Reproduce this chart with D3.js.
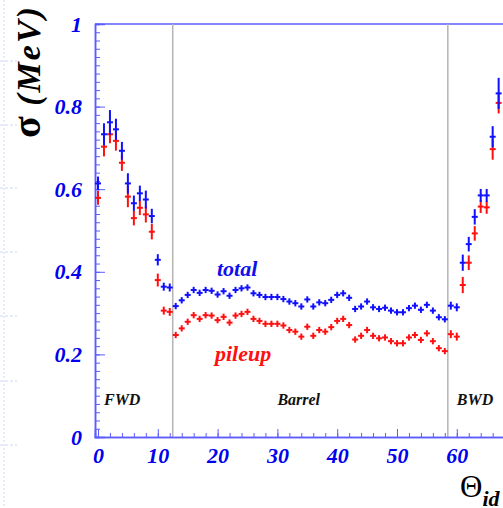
<!DOCTYPE html>
<html>
<head>
<meta charset="utf-8">
<title>sigma vs theta_id</title>
<script src="https://d3js.org/d3.v7.min.js"></script>
<style>
  body { margin: 0; background: #fff; }
  svg { display: block; }
</style>
</head>
<body>
<div id="chart"></div>
<script>

// theta_id bins
const theta = [0,1,2,3,4,5,6,7,8,9,10,11,12,13,14,15,16,17,18,19,20,21,22,23,24,25,26,27,28,29,
  30,31,32,33,34,35,36,37,38,39,40,41,42,43,44,45,46,47,48,49,50,51,52,53,54,55,56,57,58,59,
  60,61,62,63,64,65,66,67];

// total sigma (MeV)
const total = [0.614,0.733,0.762,0.745,0.693,0.614,0.566,0.590,0.575,0.535,0.429,0.364,0.362,
  0.317,0.331,0.344,0.356,0.349,0.356,0.354,0.345,0.353,0.342,0.356,0.360,0.362,0.348,0.344,
  0.339,0.339,0.339,0.334,0.328,0.324,0.316,0.333,0.316,0.326,0.324,0.332,0.344,0.348,0.337,
  0.310,0.316,0.328,0.314,0.310,0.313,0.306,0.302,0.302,0.312,0.318,0.308,0.320,0.306,0.290,
  0.285,0.318,0.314,0.422,0.467,0.533,0.585,0.585,0.727,0.832];
const totalErr = [0.013,0.023,0.026,0.022,0.018,0.021,0.015,0.015,0.018,0.014,0.010,0.006,0.006,
  0.004,0.004,0.004,0.004,0.004,0.004,0.004,0.004,0.004,0.004,0.004,0.004,0.004,0.004,0.004,
  0.004,0.004,0.004,0.004,0.004,0.004,0.004,0.004,0.004,0.004,0.004,0.004,0.004,0.004,0.004,
  0.004,0.004,0.004,0.004,0.004,0.004,0.004,0.004,0.004,0.004,0.004,0.004,0.004,0.004,0.004,
  0.004,0.006,0.006,0.016,0.014,0.015,0.012,0.012,0.022,0.034];

// pileup sigma (MeV)
const pileup = [0.579,0.703,0.733,0.717,0.664,0.582,0.530,0.555,0.539,0.497,0.380,0.306,0.303,
  0.247,0.263,0.279,0.295,0.286,0.295,0.294,0.283,0.291,0.277,0.294,0.298,0.303,0.286,0.281,
  0.274,0.274,0.274,0.270,0.259,0.255,0.243,0.267,0.245,0.259,0.255,0.266,0.281,0.286,0.271,
  0.236,0.245,0.259,0.245,0.239,0.241,0.232,0.227,0.227,0.241,0.247,0.235,0.251,0.232,0.215,
  0.208,0.249,0.243,0.368,0.422,0.493,0.558,0.556,0.697,0.809];
const pileupErr = [0.013,0.020,0.018,0.020,0.016,0.022,0.014,0.014,0.016,0.015,0.012,0.006,0.006,
  0.004,0.004,0.004,0.004,0.004,0.004,0.004,0.004,0.004,0.004,0.004,0.004,0.004,0.004,0.004,
  0.004,0.004,0.004,0.004,0.004,0.004,0.004,0.004,0.004,0.004,0.004,0.004,0.004,0.004,0.004,
  0.004,0.004,0.004,0.004,0.004,0.004,0.004,0.004,0.004,0.004,0.004,0.004,0.004,0.004,0.004,
  0.004,0.006,0.006,0.016,0.014,0.014,0.012,0.012,0.022,0.022];

const xTicks = [0,10,20,30,40,50,60];
const yTicks = [0,0.2,0.4,0.6,0.8,1];
const yTickLabels = ["0","0.2","0.4","0.6","0.8","1"];
const regionEdges = [12.5, 58.5];
const regions = [{name: "FWD", x: 1}, {name: "Barrel", x: 30}, {name: "BWD", x: 60}];

const W = 503, H = 508;
const serif = "'Liberation Serif','DejaVu Serif',serif";
const axisBlue = "#5c5cff";

let svg = d3.select("#chart").append("svg")
    .attr("width", W)
    .attr("height", H);

// faint page artefacts at the left edge
svg.append("line")
    .attr("x1", 4).attr("x2", 4).attr("y1", 0).attr("y2", H)
    .attr("stroke", "#cdd8f3").attr("stroke-width", 1)
    .attr("stroke-dasharray", "2,2");
[61,125,188,252,316,381,445].forEach(function(y) {
    svg.append("line")
        .attr("x1", 0).attr("x2", 17).attr("y1", y).attr("y2", y)
        .attr("stroke", "#cdd8f3").attr("stroke-width", 1)
        .attr("stroke-dasharray", "3,2");
});

let xScale = d3.scaleLinear().domain([-0.5, 70]).range([95, 95 + 70.5 * 5.98]);
let yScale = d3.scaleLinear().domain([0, 1]).range([437, 24]);

// frame top
svg.append("line")
    .attr("x1", xScale(-0.5)).attr("x2", W)
    .attr("y1", yScale(1)).attr("y2", yScale(1))
    .attr("stroke", axisBlue).attr("stroke-width", 1.5);

// region boundaries
svg.selectAll(".edge")
    .data(regionEdges)
    .enter().append("line")
    .attr("class", "edge")
    .attr("x1", d => xScale(d)).attr("x2", d => xScale(d))
    .attr("y1", yScale(1)).attr("y2", yScale(0))
    .attr("stroke", "#b4b4b4").attr("stroke-width", 1.5);

// minor ticks
let xMinor = d3.range(0, 70, 2);
let yMinor = d3.range(0, 1.0001, 0.02);

let gxm = svg.append("g")
    .attr("transform", "translate(0," + yScale(0) + ")")
    .call(d3.axisBottom(xScale).tickValues(xMinor).tickSize(-4).tickFormat(""));
let gym = svg.append("g")
    .attr("transform", "translate(" + xScale(-0.5) + ",0)")
    .call(d3.axisLeft(yScale).tickValues(yMinor).tickSize(-5).tickFormat(""));

// major ticks and labels
let gx = svg.append("g")
    .attr("transform", "translate(0," + yScale(0) + ")")
    .call(d3.axisBottom(xScale).tickValues(xTicks).tickSize(-8).tickPadding(10));
let gy = svg.append("g")
    .attr("transform", "translate(" + xScale(-0.5) + ",0)")
    .call(d3.axisLeft(yScale).tickValues(yTicks).tickSize(-10).tickPadding(13)
        .tickFormat((d, i) => yTickLabels[i]));

[gxm, gym, gx, gy].forEach(function(g) {
    g.selectAll("path").attr("stroke", axisBlue).attr("stroke-width", 1.5);
    g.selectAll("line").attr("stroke", axisBlue).attr("stroke-width", 1);
});
[gx, gy].forEach(function(g) {
    g.selectAll("text")
        .attr("fill", "#0000ee")
        .attr("font-family", serif)
        .attr("font-weight", "bold")
        .attr("font-style", "italic")
        .attr("font-size", "22px");
});

// error-bar crosses
function drawSeries(vals, errs, color) {
    let pts = theta.map((t, i) => ({x: t, y: vals[i], e: errs[i]}));
    let g = svg.append("g").attr("stroke", color).attr("stroke-width", 2);
    g.selectAll(".v").data(pts).enter().append("line")
        .attr("x1", d => xScale(d.x)).attr("x2", d => xScale(d.x))
        .attr("y1", d => yScale(d.y - d.e) + 1.5).attr("y2", d => yScale(d.y + d.e) - 1.5);
    g.selectAll(".h").data(pts).enter().append("line")
        .attr("x1", d => xScale(d.x - 0.5)).attr("x2", d => xScale(d.x + 0.5))
        .attr("y1", d => yScale(d.y)).attr("y2", d => yScale(d.y));
}
drawSeries(pileup, pileupErr, "#ff1010");
drawSeries(total, totalErr, "#1010ff");

// series names
svg.append("text")
    .attr("x", 217).attr("y", 276)
    .attr("fill", "#1010ee")
    .attr("font-family", serif).attr("font-weight", "bold").attr("font-style", "italic")
    .attr("font-size", "22px")
    .text("total");
svg.append("text")
    .attr("x", 215).attr("y", 361)
    .attr("fill", "#ff1010")
    .attr("font-family", serif).attr("font-weight", "bold").attr("font-style", "italic")
    .attr("font-size", "22px")
    .text("pileup");

// region names
svg.selectAll(".region")
    .data(regions)
    .enter().append("text")
    .attr("class", "region")
    .attr("x", d => xScale(d.x))
    .attr("y", 405)
    .attr("fill", "#111")
    .attr("font-family", serif).attr("font-weight", "bold").attr("font-style", "italic")
    .attr("font-size", "16px")
    .text(d => d.name);

// y title
let yt = svg.append("text")
    .attr("transform", "translate(40,138) rotate(-90)")
    .attr("fill", "#000")
    .attr("font-family", serif).attr("font-weight", "bold");
yt.append("tspan").attr("font-size", "40px").text("σ");
yt.append("tspan").attr("font-size", "34px").attr("font-style", "italic")
    .attr("letter-spacing", "2px").text(" (MeV)");

// x title (cut at the right edge, as in the original)
let xt = svg.append("text")
    .attr("x", 460).attr("y", 497)
    .attr("fill", "#000")
    .attr("font-family", serif);
xt.append("tspan").attr("font-size", "31px").text("Θ");
xt.append("tspan").attr("font-size", "22px").attr("font-weight", "bold")
    .attr("font-style", "italic").attr("dy", 9).text("id");

</script>
</body>
</html>
